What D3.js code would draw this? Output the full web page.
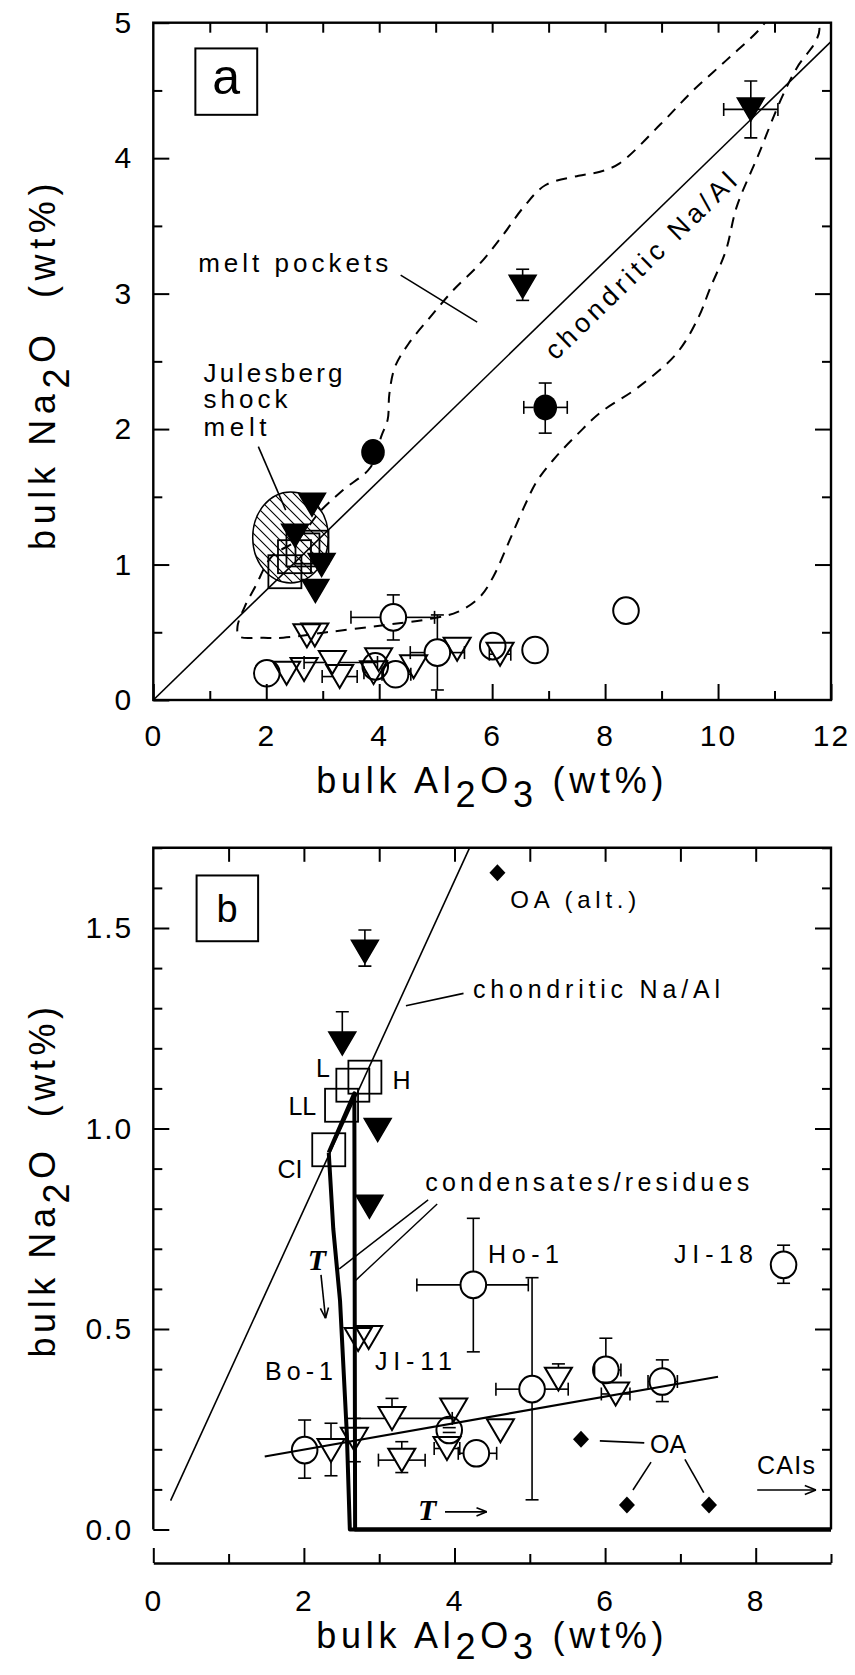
<!DOCTYPE html>
<html><head><meta charset="utf-8">
<script src="https://cdn.jsdelivr.net/npm/d3@7"></script>
<style>body{margin:0;background:#fff} svg{display:block} text{white-space:pre}</style>
</head><body>
<svg id="chart" width="855" height="1675"></svg>
<script>
// ================= DATA =================
const aXTicks = [0,2,4,6,8,10,12];
const aYTicks = [0,1,2,3,4,5];
const bXTicks = [0,2,4,6,8];
const bYTicks = [0,0.5,1.0,1.5];
const bYTickLabels = ["0.0","0.5","1.0","1.5"];

// bulk chondrites (open squares)
const chondLabels = ["CI","LL","L","H"];
const chondX = [2.33,2.50,2.65,2.81];
const chondY = [0.947,1.058,1.108,1.128];

// open circles
const ocX   = [2.01,3.93,4.29,4.25,5.03,6.01,6.76,8.37];
const ocY   = [0.198,0.248,0.190,0.610,0.350,0.398,0.369,0.660];
const ocXLo = [null,null,4.05,3.50,4.55,5.86,6.57,null];
const ocXHi = [null,null,4.56,4.98,5.51,6.21,6.96,null];
const ocYLo = [0.128,0.242,null,0.443,0.074,null,0.319,0.614];
const ocYHi = [0.273,0.254,null,0.776,0.628,0.477,0.423,0.709];

// open triangles
const otX   = [2.36,2.67,2.72,2.86,3.17,3.30,3.99,3.90,4.61,5.38,6.14];
const otY   = [0.197,0.225,0.474,0.479,0.277,0.173,0.298,0.202,0.246,0.375,0.338];
const otXLo = [null,null,null,null,2.67,2.99,null,3.73,null,null,5.95];
const otXHi = [null,null,null,null,3.97,3.61,null,4.07,null,null,6.33];
const otYLo = [0.134,0.169,null,null,null,0.142,null,null,null,null,null];
const otYHi = [0.265,0.277,null,null,0.327,0.219,null,null,null,0.413,null];

// filled triangles
const ftX   = [2.81,2.51,2.98,2.87,6.54,10.58];
const ftY   = [1.441,1.212,0.996,0.805,3.05,4.36];
const ftXLo = [null,null,null,null,null,10.10];
const ftXHi = [null,null,null,null,null,11.06];
const ftYLo = [1.405,null,null,null,2.95,4.15];
const ftYHi = [1.495,1.291,null,null,3.18,4.57];

// filled circles
const fcX   = [3.89,6.94];
const fcY   = [1.83,2.16];
const fcXLo = [null,6.56];
const fcXHi = [null,7.33];
const fcYLo = [null,1.97];
const fcYHi = [null,2.34];

// OA (filled diamonds, panel b)
const oaX = [4.57,5.68,6.29,7.38];
const oaY = [1.638,0.225,0.061,0.061];

// lines
const chondALineX = [0,12],     chondALineY = [0,4.86];
const chondBLineX = [0.23,4.20], chondBLineY = [0.072,1.70];
const trendX = [1.48,7.50], trendY = [0.182,0.381];
const condAX = [2.33,2.67,2.68,9.0], condAY = [0.94,1.088,0,0];
const condBX = [2.33,2.39,2.48,2.57,2.61,9.0], condBY = [0.94,0.75,0.57,0.24,0,0];

// melt pockets field (dashed outline)
const meltX = [10.92,10.72,10.14,9.56,8.98,8.25,7.91,7.53,6.94,6.56,6.17,5.78,5.30,4.91,4.52,4.28,4.18,4.15,4.04,3.85,3.36,2.97,2.54,2.10,1.81,1.62,1.49,1.52,1.91,2.30,3.07,4.04,4.91,5.39,5.78,6.02,6.31,6.56,6.80,7.14,7.53,7.91,8.59,9.27,9.66,9.85,10.14,10.33,10.72,11.11,11.40,11.74,11.79,11.62];
const meltY = [5.05,4.945,4.72,4.50,4.25,3.96,3.90,3.87,3.80,3.64,3.42,3.22,3.02,2.83,2.63,2.46,2.26,2.07,1.95,1.72,1.55,1.40,1.18,1.06,0.84,0.69,0.54,0.47,0.46,0.46,0.50,0.55,0.60,0.65,0.76,0.91,1.18,1.42,1.62,1.80,1.97,2.12,2.31,2.56,2.83,3.03,3.32,3.64,4.03,4.43,4.67,4.87,4.97,5.05];

// Julesberg shock melt field (ellipse)
const shockCx = 2.43, shockCy = 1.20, shockRx = 0.67, shockRy = 0.336;

// ================= DRAWING =================
const FONT = "'Liberation Sans', Arial, Helvetica, sans-serif";
const svg = d3.select("#chart");
svg.append("rect").attr("width",855).attr("height",1675).attr("fill","#fff");

const xA = d3.scaleLinear().domain([0,12]).range([153.3,831]);
const yA = d3.scaleLinear().domain([0,5]).range([700,22.7]);
const xB = d3.scaleLinear().domain([0,9]).range([153.3,831]);
const yB = d3.scaleLinear().domain([0,1.7]).range([1529.5,847.8]);
const xAxisBY = 1563;

const defs = svg.append("defs");
defs.append("clipPath").attr("id","clipA").append("rect")
  .attr("x",xA(0)).attr("y",yA(5)).attr("width",xA(12)-xA(0)).attr("height",yA(0)-yA(5));
defs.append("clipPath").attr("id","clipB").append("rect")
  .attr("x",xB(0)).attr("y",yB(1.7)).attr("width",xB(9)-xB(0)).attr("height",yB(0)-yB(1.7)+6);
const pat = defs.append("pattern").attr("id","hatch").attr("patternUnits","userSpaceOnUse")
  .attr("width",10).attr("height",10);
pat.append("path").attr("d","M0,0L10,10M-5,5L5,15M5,-5L15,5")
  .attr("stroke","#000").attr("stroke-width",1.1);

function lineXY(g, X, Y, x, y, w){
  const pts = X.map((v,i)=>[x(v),y(Y[i])]);
  return g.append("path").attr("d", d3.line()(pts)).attr("fill","none")
    .attr("stroke","#000").attr("stroke-width",w).attr("stroke-linejoin","round");
}
function seg(g,x1,y1,x2,y2,w){
  g.append("line").attr("x1",x1).attr("y1",y1).attr("x2",x2).attr("y2",y2)
    .attr("stroke","#000").attr("stroke-width",w||1.6);
}
function arrow(g,x1,y1,x2,y2,head){
  seg(g,x1,y1,x2,y2,1.6);
  const ang = Math.atan2(y2-y1,x2-x1);
  [-1,1].forEach(s=>{
    const a = ang+Math.PI+s*0.38;
    seg(g,x2,y2,x2+head*Math.cos(a),y2+head*Math.sin(a),1.6);
  });
}
function label(g,x,y,str,size,width,anchor){
  const t = g.append("text").attr("x",x).attr("y",y).text(str)
    .attr("font-family",FONT).attr("font-size",size).attr("fill","#000")
    .attr("text-anchor",anchor||"start");
  if(width){ t.attr("textLength",width).attr("lengthAdjust","spacing"); }
  return t;
}
function triPath(cx,cy){
  return `M${cx-13.5},${cy-11.5}L${cx+13.5},${cy-11.5}L${cx},${cy+11.5}Z`;
}
// error bars; off = distance from centre to marker edge [up, down, left, right]
function errBars(g,x,y,X,Y,XLo,XHi,YLo,YHi,off,skipInside){
  const cap = 6.5;
  X.forEach((v,i)=>{
    const px=x(v), py=y(Y[i]);
    if(YHi[i]!=null){ const e=y(YHi[i]); const out = py-off[0]>e;
      if(out) seg(g,px,py-off[0],px,e,1.6); if(out||!skipInside) seg(g,px-cap,e,px+cap,e,1.6); }
    if(YLo[i]!=null){ const e=y(YLo[i]); const out = py+off[1]<e;
      if(out) seg(g,px,py+off[1],px,e,1.6); if(out||!skipInside) seg(g,px-cap,e,px+cap,e,1.6); }
    if(XLo[i]!=null){ const e=x(XLo[i]); const out = px-off[2]>e;
      if(out) seg(g,px-off[2],py,e,py,1.6); if(out||!skipInside) seg(g,e,py-cap,e,py+cap,1.6); }
    if(XHi[i]!=null){ const e=x(XHi[i]); const out = px+off[3]<e;
      if(out) seg(g,px+off[3],py,e,py,1.6); if(out||!skipInside) seg(g,e,py-cap,e,py+cap,1.6); }
  });
}
function markers(g,x,y,skipInside){
  chondX.forEach((v,i)=>{
    g.append("rect").attr("x",x(v)-16.5).attr("y",y(chondY[i])-16.5).attr("width",33).attr("height",33)
      .attr("fill","none").attr("stroke","#000").attr("stroke-width",1.8);
  });
  errBars(g,x,y,ocX,ocY,ocXLo,ocXHi,ocYLo,ocYHi,[13,13,13,13],skipInside);
  errBars(g,x,y,otX,otY,otXLo,otXHi,otYLo,otYHi,[11.5,11.5,7,7],skipInside);
  errBars(g,x,y,ftX,ftY,ftXLo,ftXHi,ftYLo,ftYHi,[11.5,11.5,7,7],skipInside);
  errBars(g,x,y,fcX,fcY,fcXLo,fcXHi,fcYLo,fcYHi,[12.5,12.5,11.5,11.5],skipInside);
  ocX.forEach((v,i)=>{
    g.append("ellipse").attr("cx",x(v)).attr("cy",y(ocY[i])).attr("rx",12.8).attr("ry",13.3)
      .attr("fill","none").attr("stroke","#000").attr("stroke-width",2);
  });
  otX.forEach((v,i)=>{
    g.append("path").attr("d",triPath(x(v),y(otY[i]))).attr("fill","none")
      .attr("stroke","#000").attr("stroke-width",2).attr("stroke-linejoin","miter");
  });
  ftX.forEach((v,i)=>{
    g.append("path").attr("d",triPath(x(v),y(ftY[i]))).attr("fill","#000")
      .attr("stroke","#000").attr("stroke-width",1.5);
  });
  fcX.forEach((v,i)=>{
    g.append("ellipse").attr("cx",x(v)).attr("cy",y(fcY[i])).attr("rx",11.8).attr("ry",13)
      .attr("fill","#000");
  });
}
function axisG(g, gen, vals, size, tx, ty, fmt, pad){
  const ax = gen.tickValues(vals).tickSize(size).tickSizeOuter(0).tickPadding(pad||0)
    .tickFormat(fmt||"");
  const gg = g.append("g").attr("transform",`translate(${tx},${ty})`).call(ax);
  gg.select(".domain").remove();
  gg.selectAll("line").attr("stroke","#000").attr("stroke-width",2);
  gg.selectAll("text").attr("font-family",FONT).attr("font-size",30).attr("fill","#000")
    .attr("letter-spacing",2);
  return gg;
}
function title(g, x, y, parts, size, target, rot, subShift){
  const t = g.append("text").attr("font-family",FONT).attr("font-size",size).attr("fill","#000")
    .attr("text-anchor","middle")
    .attr("transform", rot ? `translate(${x},${y}) rotate(-90)` : `translate(${x},${y})`);
  let cur = 0;
  parts.forEach(p=>{
    const sh = p.sub ? subShift : 0;
    t.append("tspan").attr("dy", sh-cur).text(p.t);
    cur = sh;
  });
  const w = t.node().getComputedTextLength();
  const n = t.text().length;
  t.attr("letter-spacing", (target-w)/n);
  return t;
}
const minorsOf = (a,b,step,skip)=>d3.range(a,b+1e-9,step).filter(v=>!skip.some(s=>Math.abs(s-v)<1e-6));

// ================= PANEL A =================
const gA = svg.append("g");
const cA = gA.append("g").attr("clip-path","url(#clipA)");
cA.append("ellipse").attr("cx",xA(shockCx)).attr("cy",yA(shockCy))
  .attr("rx",xA(shockRx)-xA(0)).attr("ry",yA(0)-yA(shockRy))
  .attr("fill","url(#hatch)").attr("stroke","#000").attr("stroke-width",1.5);
cA.append("path").attr("d", d3.line().curve(d3.curveCatmullRom.alpha(0.5))(meltX.map((v,i)=>[xA(v),yA(meltY[i])])))
  .attr("fill","none").attr("stroke","#000").attr("stroke-width",2).attr("stroke-dasharray","11,8");
lineXY(cA, chondALineX, chondALineY, xA, yA, 1.6);
markers(cA, xA, yA, true);

gA.append("rect").attr("x",xA(0)).attr("y",yA(5)).attr("width",xA(12)-xA(0)).attr("height",yA(0)-yA(5))
  .attr("fill","none").attr("stroke","#000").attr("stroke-width",2.4);
const aXMin = minorsOf(0,12,1,aXTicks), aYMin = minorsOf(0,5,0.5,aYTicks);
axisG(gA, d3.axisLeft(yA), aYTicks, -16, xA(0), 0, d3.format("d"), 20);
axisG(gA, d3.axisLeft(yA), aYMin, -9, xA(0), 0);
axisG(gA, d3.axisRight(yA), aYTicks.slice(1,-1), -16, xA(12), 0);
axisG(gA, d3.axisRight(yA), aYMin, -9, xA(12), 0);
axisG(gA, d3.axisBottom(xA), aXTicks, -16, 0, yA(0), d3.format("d"), 25);
axisG(gA, d3.axisBottom(xA), aXMin, -9, 0, yA(0));
axisG(gA, d3.axisTop(xA), aXTicks.slice(1,-1), -10, 0, yA(5));
axisG(gA, d3.axisTop(xA), aXMin, -10, 0, yA(5));

title(gA, (xA(0)+xA(12))/2, 793, [{t:"bulk Al"},{t:"2",sub:true},{t:"O"},{t:"3",sub:true},{t:" (wt%)"}], 36, 352, false, 14);
title(gA, 55, 364, [{t:"bulk Na"},{t:"2",sub:true},{t:"O  (wt%)"}], 36, 372, true, 14);

gA.append("rect").attr("x",xA(0.745)).attr("y",yA(4.81)).attr("width",xA(1.84)-xA(0.745)).attr("height",yA(4.32)-yA(4.81))
  .attr("fill","none").attr("stroke","#000").attr("stroke-width",2);
label(gA, xA(1.29), yA(4.47), "a", 50, null, "middle");

label(gA, xA(0.795), yA(3.16), "melt pockets", 26, 190);
seg(gA, xA(4.38), yA(3.137), xA(5.735), yA(2.79), 1.6);
label(gA, xA(0.89), yA(2.35), "Julesberg", 26, 139);
label(gA, xA(0.89), yA(2.153), "shock", 26, 84);
label(gA, xA(0.89), yA(1.948), "melt", 26, 63);
seg(gA, xA(1.86), yA(1.87), xA(2.344), yA(1.402), 1.6);
gA.append("text").attr("transform",`translate(${xA(7.12)},${yA(2.50)}) rotate(-44.2)`)
  .attr("font-family",FONT).attr("font-size",27).attr("textLength",255).attr("lengthAdjust","spacing")
  .text("chondritic Na/Al");

// ================= PANEL B =================
const gB = svg.append("g");
const cB = gB.append("g").attr("clip-path","url(#clipB)");
lineXY(cB, chondBLineX, chondBLineY, xB, yB, 1.6);
lineXY(cB, trendX, trendY, xB, yB, 2.2);
lineXY(cB, condAX, condAY, xB, yB, 4);
lineXY(cB, condBX, condBY, xB, yB, 4);
markers(cB, xB, yB, false);
oaX.forEach((v,i)=>{
  const cx=xB(v), cy=yB(oaY[i]);
  cB.append("path").attr("d",`M${cx},${cy-8.5}L${cx+8},${cy}L${cx},${cy+8.5}L${cx-8},${cy}Z`).attr("fill","#000");
});

gB.append("path").attr("d",`M${xB(0)},${yB(0)}V${yB(1.7)}H${xB(9)}V${yB(0)}`)
  .attr("fill","none").attr("stroke","#000").attr("stroke-width",2.4);
const bYMin = minorsOf(0,1.7,0.1,bYTicks);
axisG(gB, d3.axisLeft(yB), bYTicks, -16, xB(0), 0, (d,i)=>bYTickLabels[i], 20);
axisG(gB, d3.axisLeft(yB), bYMin, -9, xB(0), 0);
axisG(gB, d3.axisRight(yB), bYTicks.slice(1), -16, xB(9), 0);
axisG(gB, d3.axisRight(yB), bYMin, -9, xB(9), 0);
axisG(gB, d3.axisTop(xB), d3.range(1,9), -14, 0, yB(1.7));
const bx = d3.axisBottom(xB).tickValues(bXTicks).tickSize(-15).tickSizeOuter(0).tickPadding(27).tickFormat(d3.format("d"));
const bxg = gB.append("g").attr("transform",`translate(0,${xAxisBY})`).call(bx);
bxg.select(".domain").attr("stroke","#000").attr("stroke-width",2.4);
bxg.selectAll("line").attr("stroke","#000").attr("stroke-width",2);
bxg.selectAll("text").attr("font-family",FONT).attr("font-size",30).attr("fill","#000").attr("letter-spacing",2);
axisG(gB, d3.axisBottom(xB), minorsOf(0,9,1,bXTicks), -9, 0, xAxisBY);

title(gB, (xB(0)+xB(9))/2, 1648, [{t:"bulk Al"},{t:"2",sub:true},{t:"O"},{t:"3",sub:true},{t:" (wt%)"}], 36, 352, false, 11);
title(gB, 55, 1180, [{t:"bulk Na"},{t:"2",sub:true},{t:"O  (wt%)"}], 36, 355, true, 14);

gB.append("rect").attr("x",xB(0.575)).attr("y",yB(1.631)).attr("width",xB(1.392)-xB(0.575)).attr("height",yB(1.467)-yB(1.631))
  .attr("fill","none").attr("stroke","#000").attr("stroke-width",2);
label(gB, xB(0.98), yB(1.516), "b", 38, null, "middle");

label(gB, xB(4.74), yB(1.55), "OA (alt.)", 24, 126);
label(gB, xB(4.245), yB(1.325), "chondritic Na/Al", 25, 247);
seg(gB, xB(3.355), yB(1.306), xB(4.12), yB(1.337), 1.6);
label(gB, xB(3.61), yB(0.844), "condensates/residues", 25, 324);
seg(gB, xB(3.65), yB(0.822), xB(2.47), yB(0.650), 1.4);
seg(gB, xB(3.77), yB(0.812), xB(2.68), yB(0.620), 1.4);
const chondLabX = [1.65,1.794,2.16,3.175], chondLabY = [0.877,1.034,1.129,1.098];
chondLabels.forEach((s,i)=>{ label(gB, xB(chondLabX[i]), yB(chondLabY[i]), s, 25); });
label(gB, xB(4.445), yB(0.665), "Ho-1", 25, 71);
label(gB, xB(6.915), yB(0.665), "JI-18", 25, 79);
label(gB, xB(2.944), yB(0.398), "JI-11", 25, 77);
label(gB, xB(1.483), yB(0.373), "Bo-1", 25, 68);
label(gB, xB(6.597), yB(0.1915), "OA", 25);
seg(gB, xB(5.93), yB(0.221), xB(6.52), yB(0.216), 1.6);
seg(gB, xB(6.61), yB(0.168), xB(6.37), yB(0.0985), 1.6);
seg(gB, xB(7.06), yB(0.175), xB(7.31), yB(0.092), 1.6);
label(gB, xB(8.017), yB(0.138), "CAIs", 25, 58);
arrow(gB, xB(8.02), yB(0.0985), xB(8.80), yB(0.0985), 12);
const SERIF = "'Liberation Serif', 'Times New Roman', serif";
gB.append("text").attr("x",xB(2.05)).attr("y",yB(0.647)).text("T")
  .attr("font-family",SERIF).attr("font-style","italic").attr("font-weight","bold").attr("font-size",30);
arrow(gB, xB(2.227), yB(0.635), xB(2.287), yB(0.527), 11);
gB.append("text").attr("x",xB(3.516)).attr("y",yB(0.024)).text("T")
  .attr("font-family",SERIF).attr("font-style","italic").attr("font-weight","bold").attr("font-size",30);
arrow(gB, xB(3.874), yB(0.044), xB(4.428), yB(0.044), 11);
</script>
</body></html>
